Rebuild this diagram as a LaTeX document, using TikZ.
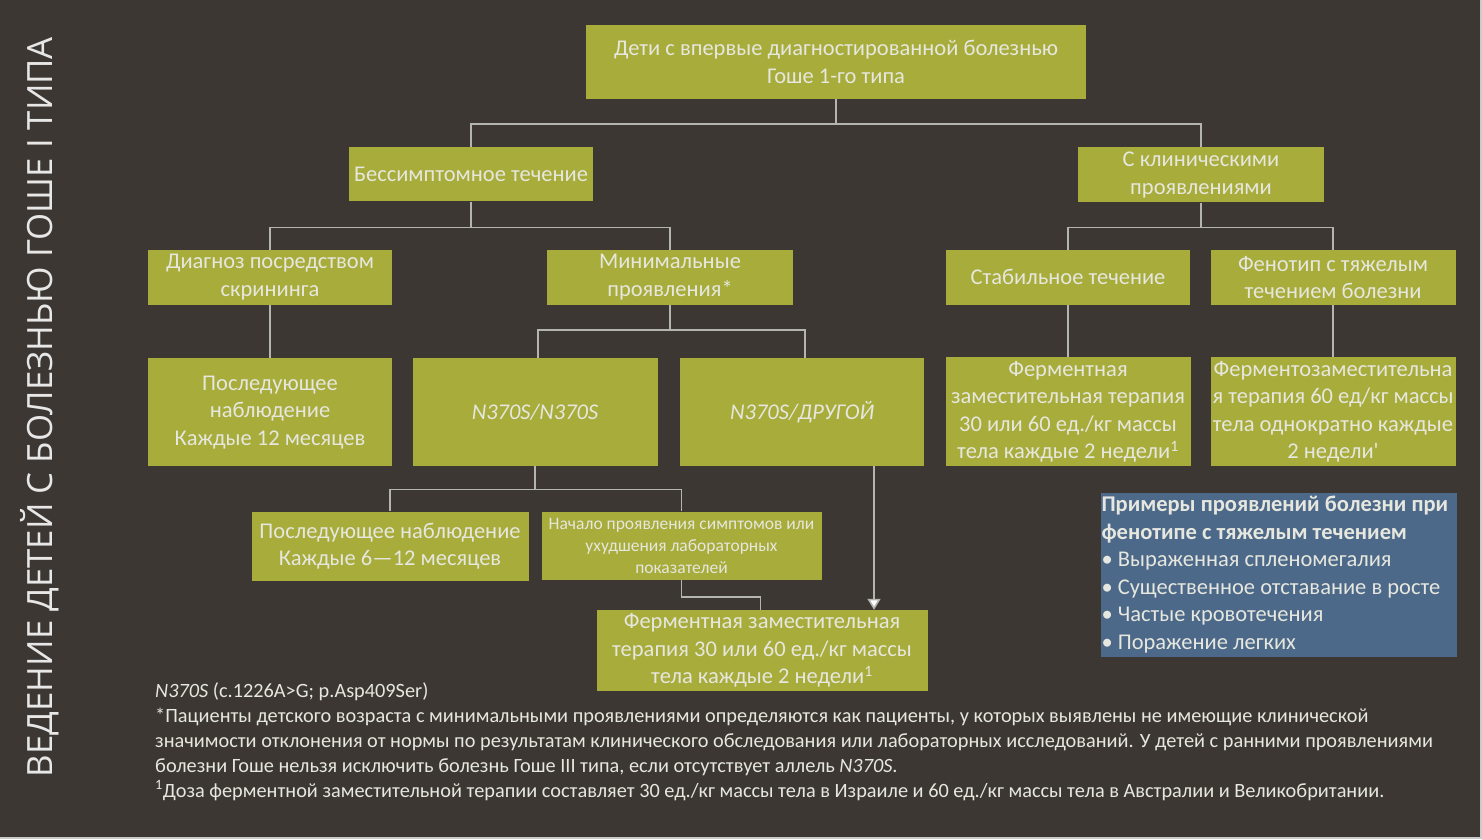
\documentclass[tikz,border=0pt]{standalone}
\usepackage{fontspec}
\setmainfont{Carlito}
\newfontfamily\titlefont{Open Sans}
\usetikzlibrary{positioning,arrows.meta}
\definecolor{bg}{HTML}{3C3733}
\definecolor{olive}{HTML}{A8AC3A}
\definecolor{boxtext}{HTML}{E6E7DE}
\definecolor{slate}{HTML}{4D6989}
\definecolor{wire}{HTML}{B4B4B0}
\tikzset{
  box/.style={fill=olive, text=boxtext, align=center, inner sep=1pt,
    font=\fontsize{22.5}{27.5}\selectfont},
  wide/.style={minimum width=244pt, minimum height=55pt},
  tall/.style={minimum width=245pt, minimum height=108pt},
  link/.style={draw=wire, line width=1.6pt},
}
\begin{document}
\begin{tikzpicture}[x=1pt, y=-1pt]
  \fill[bg] (0,0) rectangle (1482,839);
  \useasboundingbox (0,0) rectangle (1482,839);
  \draw[wire!70, line width=2pt] (1481,0) -- (1481,839) (0,838) -- (1482,838);

  \node (title) [rotate=90, text=white!88!bg, font=\titlefont\fontsize{34.8}{40}\selectfont] at (40,407)
    {ВЕДЕНИЕ ДЕТЕЙ С БОЛЕЗНЬЮ ГОШЕ I ТИПА};

  \node (top) [box, minimum width=500pt, minimum height=74pt] at (836,62)
    {Дети с впервые диагностированной болезнью\\Гоше 1-го типа};
  \node (asym) [box, wide, minimum height=54pt, below=48pt of top, xshift=-365pt]
    {Бессимптомное течение};
  \node (clin) [box, wide, minimum width=246pt, below=48pt of top, xshift=365pt]
    {С клиническими\\проявлениями};
  \node (screen) [box, wide, below=48pt of asym, xshift=-201pt]
    {Диагноз посредством\\скрининга};
  \node (minim) [box, wide, minimum width=246pt, below=48pt of asym, xshift=199pt]
    {Минимальные\\проявления*};
  \node (stable) [box, wide, below=47pt of clin, xshift=-133pt]
    {Стабильное течение};
  \node (severe) [box, wide, minimum width=245pt, below=47pt of clin, xshift=132pt]
    {Фенотип с тяжелым\\течением болезни};
  \node (follow12) [box, tall, minimum width=244pt, below=53pt of screen]
    {Последующее\\наблюдение\\Каждые 12 месяцев};
  \node (homo) [box, tall, below=53pt of minim, xshift=-135pt]
    {\itshape N370S/N370S};
  \node (other) [box, tall, minimum width=244pt, below=53pt of minim, xshift=132pt]
    {\itshape N370S/ДРУГОЙ};
  \node (ertstable) [box, tall, minimum height=109pt, below=52pt of stable]
    {Ферментная\\заместительная терапия\\30 или 60 ед./кг массы\\тела каждые 2 недели\textsuperscript{1}};
  \node (ertsevere) [box, tall, minimum height=109pt, below=52pt of severe]
    {Ферментозаместительна\\я терапия 60 ед/кг массы\\тела однократно каждые\\2 недели\textquotesingle};
  \node (follow6) [box, minimum width=277pt, minimum height=69pt, below=45pt of homo, xshift=-145pt]
    {Последующее наблюдение\\Каждые 6---12 месяцев};
  \node (onset) [box, minimum width=280pt, minimum height=68pt, below=45pt of homo, xshift=146.5pt,
    font=\fontsize{17.5}{22}\selectfont]
    {Начало проявления симптомов или\\ухудшения лабораторных\\показателей};
  \node (ertmin) [box, minimum width=331pt, minimum height=81pt, below=30pt of onset, xshift=80.5pt]
    {Ферментная заместительная\\терапия 30 или 60 ед./кг массы\\тела каждые 2 недели\textsuperscript{1}};
  \node (examples) [box, fill=slate, align=flush left, text width=354pt, minimum height=164pt,
    below=26pt of ertsevere, xshift=-54.5pt]
    {\textbf{Примеры проявлений болезни при}\\\textbf{фенотипе с тяжелым течением}\\
     • Выраженная спленомегалия\\• Существенное отставание в росте\\
     • Частые кровотечения\\• Поражение легких};

  \node (notes) [anchor=north west, align=flush left, text=boxtext, inner sep=0pt,
    font=\fontsize{20.3}{25}\selectfont] at (155,682)
    {\textit{N370S} (c.1226A>G; p.Asp409Ser)\\
     *Пациенты детского возраста с минимальными проявлениями определяются как пациенты, у которых выявлены не имеющие клинической\\
     значимости отклонения от нормы по результатам клинического обследования или лабораторных исследований. У детей с ранними проявлениями\\
     болезни Гоше нельзя исключить болезнь Гоше III типа, если отсутствует аллель \textit{N370S}.\\
     \textsuperscript{1}Доза ферментной заместительной терапии составляет 30 ед./кг массы тела в Израиле и 60 ед./кг массы тела в Австралии и Великобритании.};

  \draw[link] (top.south) -- ++(0,25) -| (asym.north);
  \draw[link] (top.south) -- ++(0,25) -| (clin.north);
  \draw[link] (asym.south) -- ++(0,26) -| (screen.north);
  \draw[link] (asym.south) -- ++(0,26) -| (minim.north);
  \draw[link] (clin.south) -- ++(0,25) -| (stable.north);
  \draw[link] (clin.south) -- ++(0,25) -| (severe.north);
  \draw[link] (screen) -- (follow12);
  \draw[link] (minim.south) -- ++(0,25) -| ([xshift=3pt]homo.north);
  \draw[link] (minim.south) -- ++(0,25) -| ([xshift=3pt]other.north);
  \draw[link] (stable) -- (ertstable);
  \draw[link] (severe) -- (ertsevere);
  \draw[link] (homo.south) -- ++(0,23) -| (follow6.north);
  \draw[link] (homo.south) -- ++(0,23) -| (onset.north);
  \draw[link] (onset.south) -- ++(0,17) -| ([xshift=-1.5pt]ertmin.north);
  \draw[link, -{Triangle[width=13pt, length=11pt, fill=white]}]
    ([xshift=72pt]other.south) -- ([xshift=72pt]other.south |- ertmin.north);
\end{tikzpicture}
\end{document}
